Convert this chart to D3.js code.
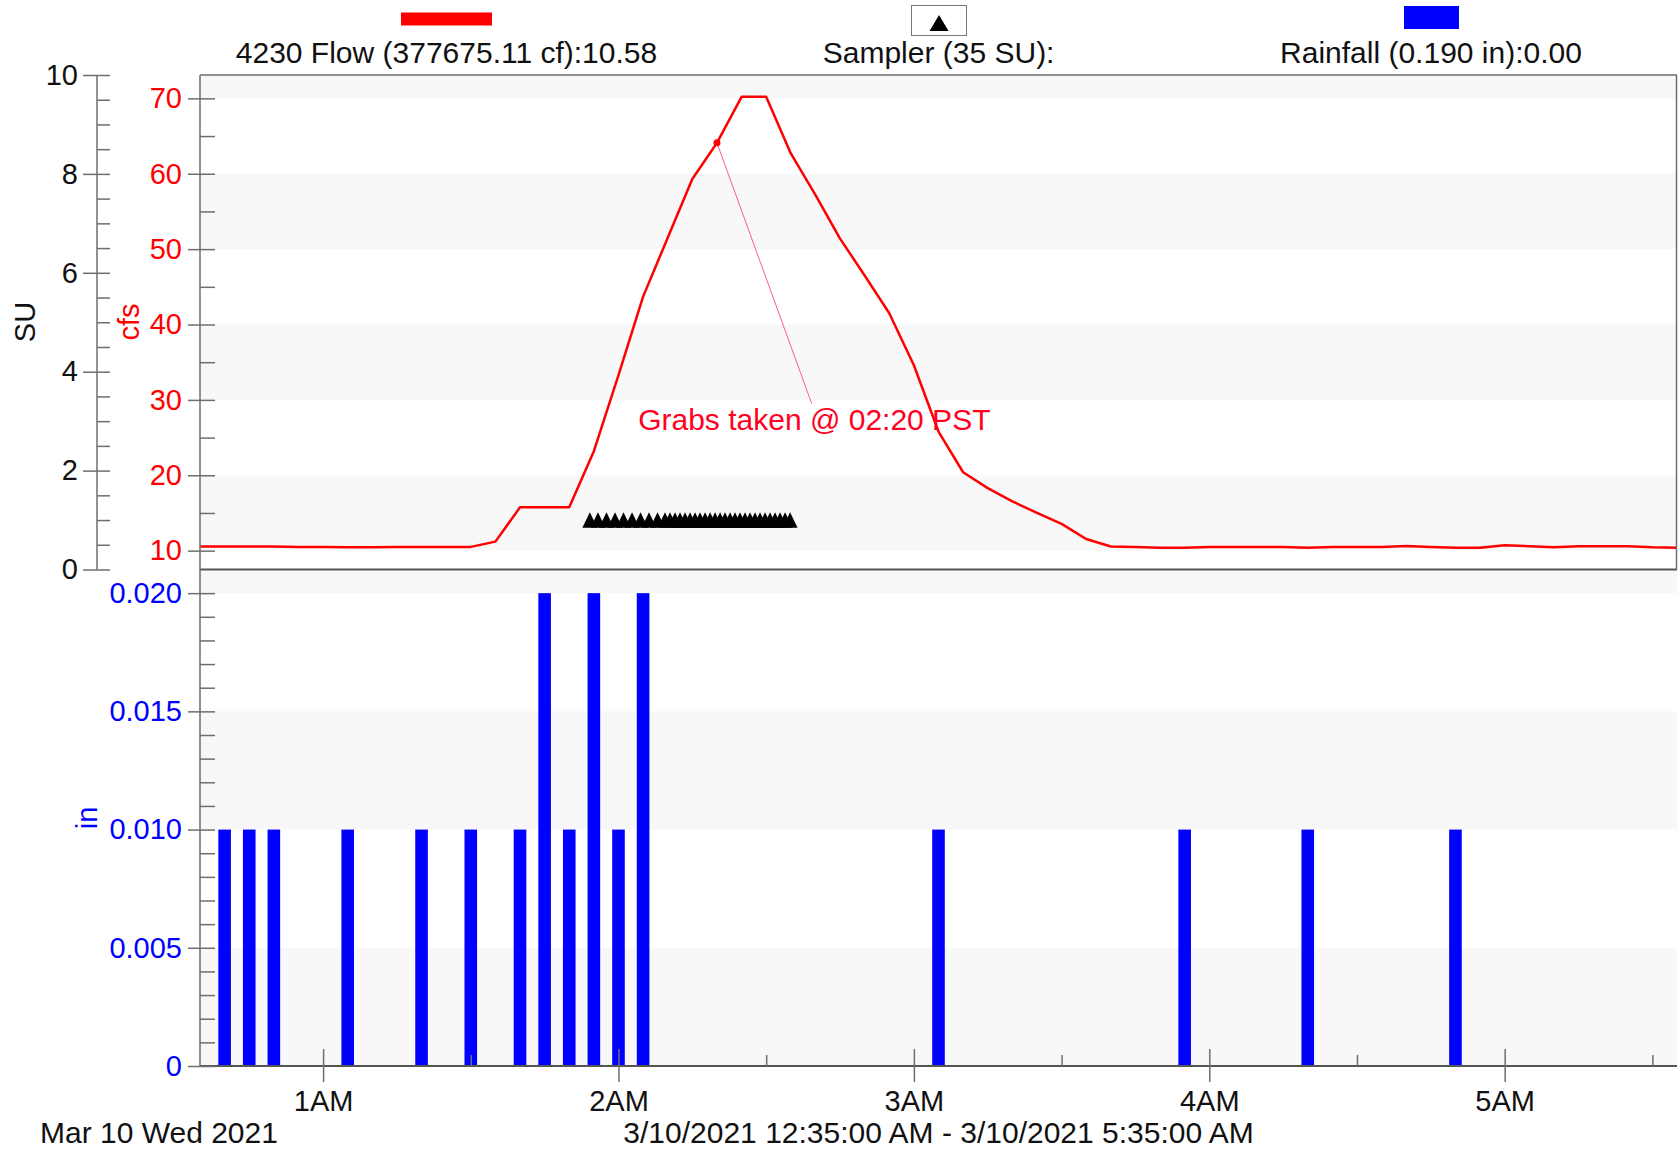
<!DOCTYPE html>
<html>
<head>
<meta charset="utf-8">
<script src="https://cdn.jsdelivr.net/npm/d3@7"></script>
<style>
  body { margin: 0; background: #fff; }
  svg text { font-family: "Liberation Sans", Arial, sans-serif; }
</style>
</head>
<body>
<svg id="chart" width="1678" height="1152"></svg>
<script>
// Flow (cfs), 5 minute readings
const flowTimes = ["00:35","00:40","00:45","00:50","00:55","01:00","01:05","01:10","01:15","01:20",
  "01:25","01:30","01:35","01:40","01:45","01:50","01:55","02:00","02:05","02:10",
  "02:15","02:20","02:25","02:30","02:35","02:40","02:45","02:50","02:55","03:00",
  "03:05","03:10","03:15","03:20","03:25","03:30","03:35","03:40","03:45","03:50",
  "03:55","04:00","04:05","04:10","04:15","04:20","04:25","04:30","04:35","04:40",
  "04:45","04:50","04:55","05:00","05:05","05:10","05:15","05:20","05:25","05:30","05:35"];
const flowValues = [10.55,10.55,10.55,10.55,10.5,10.5,10.45,10.45,10.5,10.5,
  10.5,10.5,11.2,15.75,15.75,15.75,23.2,33.3,43.7,51.5,
  59.3,64.1,70.2,70.2,62.7,57.2,51.4,46.5,41.5,34.6,
  25.8,20.4,18.3,16.55,15.0,13.55,11.55,10.55,10.5,10.4,
  10.4,10.5,10.5,10.5,10.5,10.4,10.5,10.5,10.5,10.62,
  10.5,10.4,10.4,10.72,10.6,10.45,10.6,10.6,10.6,10.45,10.4];

// Rainfall (in)
const rainTimes = ["00:40","00:45","00:50","01:05","01:20","01:30","01:40","01:45","01:50",
  "01:55","02:00","02:05","03:05","03:55","04:20","04:50"];
const rainValues = [0.01,0.01,0.01,0.01,0.01,0.01,0.01,0.02,0.01,
  0.02,0.01,0.02,0.01,0.01,0.01,0.01];

// Sampler events (1 SU each, 35 total)
const samplerTimes = ["01:54:11","01:55:50","01:57:34","01:59:18","02:01:01","02:02:45","02:04:29",
  "02:06:12","02:07:56","02:09:27","02:10:28","02:11:29","02:12:30","02:13:31","02:14:32",
  "02:15:33","02:16:34","02:17:35","02:18:36","02:19:37","02:20:38","02:21:38","02:22:40",
  "02:23:40","02:24:41","02:25:42","02:26:43","02:27:44","02:28:45","02:29:46","02:30:47",
  "02:31:48","02:32:49","02:33:50","02:34:51"];
const samplerValue = 1;

// Tick values
const suTicks = [0, 2, 4, 6, 8, 10];
const cfsTicks = [10, 20, 30, 40, 50, 60, 70];
const rainTicks = [0, 0.005, 0.010, 0.015, 0.020];
const hourTicks = ["01:00","02:00","03:00","04:00","05:00"];
const halfHourTicks = ["01:30","02:30","03:30","04:30","05:30"];

// Annotation
const grabTime = "02:20";
const grabLabel = "Grabs taken @ 02:20 PST";

const parse = d3.timeParse("%Y-%m-%d %H:%M:%S");
const toDate = t => parse("2021-03-10 " + (t.length === 5 ? t + ":00" : t));

const flow = flowTimes.map((t, i) => ({ t: toDate(t), v: flowValues[i] }));
const rain = rainTimes.map((t, i) => ({ t: toDate(t), v: rainValues[i] }));
const samples = samplerTimes.map(t => ({ t: toDate(t), v: samplerValue }));

const svg = d3.select("#chart");
const left = 200, right = 1677;
const topY = 75, midY = 569.5, bottomY = 1066;
const axisGray = "#6e6e6e";
const bigFont = 30, tickFont = 29;

// Scales
const x = d3.scaleTime().domain([toDate("00:35"), toDate("05:35")]).range([left, right]);
const ySU = d3.scaleLinear().domain([0, 10]).range([midY, topY]);
const yCfs = d3.scaleLinear().domain([7.5, 73.1]).range([midY, topY]);
const yRain = d3.scaleLinear().domain([0, 0.021]).range([bottomY, midY]);

// Background bands (every other major tick interval)
function bands(ticks, scale, topVal) {
    const out = [];
    ticks.forEach((t, i) => {
        if (i % 2 === 0) {
            const hi = i + 1 < ticks.length ? ticks[i + 1] : topVal;
            out.push([t, hi]);
        }
    });
    svg.append("g").selectAll("rect")
        .data(out)
        .enter()
        .append("rect")
        .attr("x", left)
        .attr("width", right - left)
        .attr("y", d => scale(d[1]))
        .attr("height", d => scale(d[0]) - scale(d[1]))
        .attr("fill", "#f8f8f8");
}
bands(cfsTicks, yCfs, yCfs.domain()[1]);
bands(rainTicks, yRain, yRain.domain()[1]);

// Rain bars
svg.append("g").selectAll("rect")
    .data(rain)
    .enter()
    .append("rect")
    .attr("x", d => x(d.t) - 6.3)
    .attr("width", 12.6)
    .attr("y", d => yRain(d.v))
    .attr("height", d => yRain(0) - yRain(d.v))
    .attr("fill", "#0000ff");

// Sampler triangles
svg.append("g").selectAll("path")
    .data(samples)
    .enter()
    .append("path")
    .attr("d", d => {
        const cx = x(d.t), cy = ySU(d.v);
        return `M${cx - 7.5},${cy + 7.7}L${cx},${cy - 7.7}L${cx + 7.5},${cy + 7.7}Z`;
    })
    .attr("fill", "#000");

// Flow line
const line = d3.line().x(d => x(d.t)).y(d => yCfs(d.v));
svg.append("path")
    .datum(flow)
    .attr("d", line)
    .attr("fill", "none")
    .attr("stroke", "#ff0000")
    .attr("stroke-width", 2.5)
    .attr("stroke-linejoin", "round");

// Grab annotation
const grab = flow.find(d => +d.t === +toDate(grabTime));
const labelX = x(toDate("02:04")), labelY = yCfs(26);
svg.append("line")
    .attr("x1", x(grab.t)).attr("y1", yCfs(grab.v))
    .attr("x2", x(toDate("02:39:15"))).attr("y2", yCfs(29.5))
    .attr("stroke", "#ff5c8a")
    .attr("stroke-width", 1);
svg.append("circle")
    .attr("cx", x(grab.t)).attr("cy", yCfs(grab.v))
    .attr("r", 3.5)
    .attr("fill", "#ff0000");
svg.append("text")
    .attr("x", labelX).attr("y", labelY)
    .attr("font-size", bigFont)
    .attr("fill", "#ff0022")
    .text(grabLabel);

// Frame lines
const frame = svg.append("g").attr("stroke", axisGray).attr("fill", "none");
frame.append("line").attr("x1", left).attr("x2", right).attr("y1", topY).attr("y2", topY).attr("stroke-width", 1.5);
frame.append("line").attr("x1", left).attr("x2", right).attr("y1", midY).attr("y2", midY).attr("stroke", "#555").attr("stroke-width", 2);
frame.append("line").attr("x1", left).attr("x2", right).attr("y1", bottomY).attr("y2", bottomY).attr("stroke", "#555").attr("stroke-width", 2);
frame.append("line").attr("x1", right - 0.5).attr("x2", right - 0.5).attr("y1", topY).attr("y2", midY).attr("stroke-width", 1.5);
frame.append("line").attr("x1", left).attr("x2", left).attr("y1", topY).attr("y2", bottomY).attr("stroke-width", 1.5);
frame.append("line").attr("x1", 97).attr("x2", 97).attr("y1", topY).attr("y2", midY).attr("stroke-width", 1.5);

// Axis helper: strip the domain, colour ticks and labels
function styleAxis(g, color) {
    g.select(".domain").remove();
    g.selectAll(".tick line").attr("stroke", axisGray).attr("stroke-width", 1.5);
    g.selectAll(".tick text").attr("fill", color).attr("font-size", tickFont)
        .attr("font-family", "'Liberation Sans', Arial, sans-serif");
}

// SU axis
svg.append("g").attr("transform", "translate(97,0)")
    .call(d3.axisLeft(ySU).tickValues(suTicks).tickSize(14).tickPadding(5).tickFormat(d3.format("d")))
    .call(g => styleAxis(g, "#111"));
svg.append("g").attr("transform", "translate(97,0)")
    .call(d3.axisRight(ySU).tickValues(d3.range(0, 10.01, 0.5)).tickSize(13).tickFormat(""))
    .call(g => styleAxis(g, "#111"));

// cfs axis
svg.append("g").attr("transform", `translate(${left},0)`)
    .call(d3.axisLeft(yCfs).tickValues(cfsTicks).tickSize(12).tickPadding(6).tickFormat(d3.format("d")))
    .call(g => styleAxis(g, "#ff0000"));
svg.append("g").attr("transform", `translate(${left},0)`)
    .call(d3.axisRight(yCfs).tickValues(d3.range(10, 70.1, 5)).tickSize(15).tickFormat(""))
    .call(g => styleAxis(g, "#ff0000"));

// Rain axis
svg.append("g").attr("transform", `translate(${left},0)`)
    .call(d3.axisLeft(yRain).tickValues(rainTicks).tickSize(12).tickPadding(6)
        .tickFormat(d => d === 0 ? "0" : d3.format(".3f")(d)))
    .call(g => styleAxis(g, "#0000ff"));
svg.append("g").attr("transform", `translate(${left},0)`)
    .call(d3.axisRight(yRain).tickValues(d3.range(0, 0.0201, 0.001)).tickSize(15).tickFormat(""))
    .call(g => styleAxis(g, "#0000ff"));

// Time axis
svg.append("g").attr("transform", `translate(0,${bottomY})`)
    .call(d3.axisBottom(x).tickValues(hourTicks.map(toDate)).tickSize(16).tickPadding(8)
        .tickFormat(d3.timeFormat("%-I%p")))
    .call(g => styleAxis(g, "#111"));
svg.append("g").attr("transform", `translate(0,${bottomY})`)
    .call(d3.axisTop(x).tickValues(hourTicks.map(toDate)).tickSize(17).tickFormat(""))
    .call(g => styleAxis(g, "#111"));
svg.append("g").attr("transform", `translate(0,${bottomY})`)
    .call(d3.axisTop(x).tickValues(halfHourTicks.map(toDate)).tickSize(11).tickFormat(""))
    .call(g => styleAxis(g, "#111"));

// Axis titles
function yTitle(cx, cy, text, color) {
    svg.append("text")
        .attr("transform", `translate(${cx},${cy}) rotate(-90)`)
        .attr("text-anchor", "middle")
        .attr("dominant-baseline", "central")
        .attr("font-size", tickFont)
        .attr("fill", color)
        .text(text);
}
yTitle(25, 322, "SU", "#111");
yTitle(129, 322, "cfs", "#ff0000");
yTitle(87, 818, "in", "#0000ff");

// Bottom captions
svg.append("text").attr("x", 40).attr("y", 1143).attr("font-size", bigFont).attr("fill", "#111")
    .text("Mar 10 Wed 2021");
svg.append("text").attr("x", 938.6).attr("y", 1143).attr("font-size", bigFont).attr("fill", "#111")
    .attr("text-anchor", "middle")
    .text("3/10/2021 12:35:00 AM - 3/10/2021 5:35:00 AM");

// Legend
const legend = svg.append("g");
legend.append("rect").attr("x", 401).attr("y", 12.5).attr("width", 91).attr("height", 13).attr("fill", "#ff0000");
legend.append("text").attr("x", 446.5).attr("y", 63).attr("text-anchor", "middle").attr("font-size", bigFont)
    .attr("fill", "#111").text("4230 Flow (377675.11 cf):10.58");

legend.append("rect").attr("x", 911.5).attr("y", 5.5).attr("width", 55).attr("height", 30)
    .attr("fill", "#fff").attr("stroke", "#777").attr("stroke-width", 1);
legend.append("path").attr("d", "M929.5,31L939,15L948.5,31Z").attr("fill", "#000");
legend.append("text").attr("x", 938.6).attr("y", 63).attr("text-anchor", "middle").attr("font-size", bigFont)
    .attr("fill", "#111").text("Sampler (35 SU):");

legend.append("rect").attr("x", 1404).attr("y", 6).attr("width", 55).attr("height", 23).attr("fill", "#0000ff");
legend.append("text").attr("x", 1431).attr("y", 63).attr("text-anchor", "middle").attr("font-size", bigFont)
    .attr("fill", "#111").text("Rainfall (0.190 in):0.00");
</script>
</body>
</html>
